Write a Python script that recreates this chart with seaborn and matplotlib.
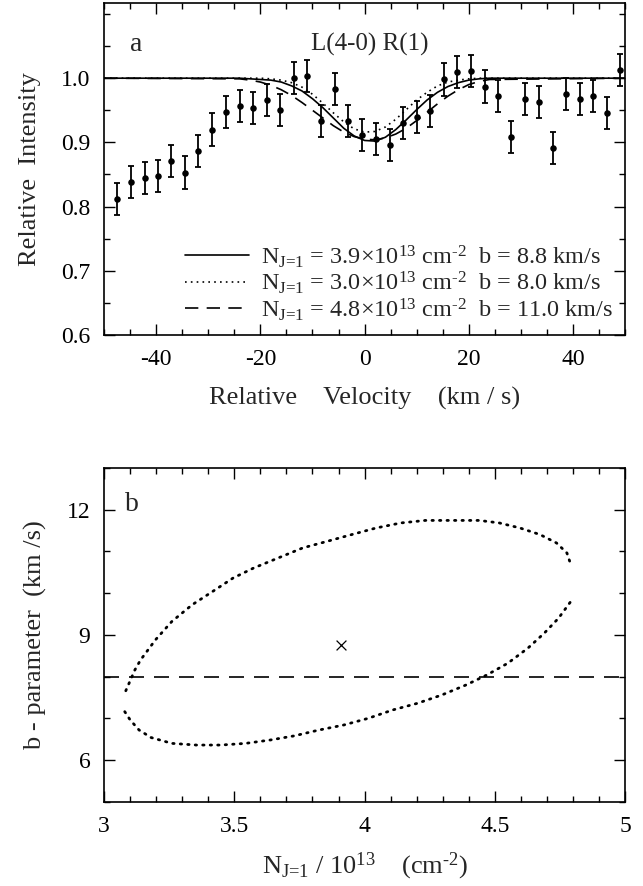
import numpy as np
import matplotlib
matplotlib.use("Agg")
import matplotlib.pyplot as plt
from matplotlib.ticker import MultipleLocator, FixedLocator, FormatStrFormatter, FuncFormatter
import seaborn as sns

sns.set_style("ticks")
plt.rcParams["font.family"] = ["Liberation Serif", "DejaVu Serif"]
plt.rcParams["mathtext.fontset"] = "custom"
plt.rcParams["mathtext.rm"] = "Liberation Serif"
plt.rcParams["mathtext.it"] = "Liberation Serif:italic"
plt.rcParams["axes.unicode_minus"] = False

# panel a: observed profile
velocity = [-47.5, -44.9, -42.2, -39.7, -37.1, -34.4, -31.9, -29.2, -26.6, -24.0,
            -21.4, -18.7, -16.2, -13.6, -11.0, -8.3, -5.7, -3.1, -0.4, 2.1,
            4.8, 7.4, 10.0, 12.6, 15.3, 17.8, 20.4, 23.1, 25.6, 28.2,
            30.8, 33.5, 36.1, 38.7, 41.3, 43.9, 46.5, 49.1]
intensity = [0.812, 0.838, 0.844, 0.848, 0.871, 0.853, 0.886, 0.920, 0.947, 0.957,
             0.953, 0.966, 0.951, 1.001, 1.003, 0.934, 0.983, 0.934, 0.911, 0.905,
             0.896, 0.930, 0.940, 0.949, 0.998, 1.010, 1.011, 0.987, 0.972, 0.908,
             0.968, 0.963, 0.891, 0.975, 0.968, 0.972, 0.946, 1.013]
intensity_err = [0.025] * len(velocity)

# model profiles
model_v = [-50, -24, -22, -20, -18, -16, -14, -12, -10, -8, -6, -4, -2, 0,
           2, 4, 6, 8, 10, 12, 14, 16, 18, 20, 22, 24, 50]
model_solid = [1.000, 1.000, 0.999, 0.998, 0.997, 0.994, 0.988, 0.980, 0.968, 0.954, 0.938, 0.922, 0.910, 0.903,
               0.902, 0.908, 0.920, 0.935, 0.951, 0.966, 0.978, 0.987, 0.993, 0.997, 0.999, 1.000, 1.000]
model_dotted = [1.000, 1.000, 1.000, 1.000, 0.999, 0.997, 0.993, 0.986, 0.975, 0.961, 0.946, 0.932, 0.921, 0.916,
                0.917, 0.924, 0.936, 0.951, 0.966, 0.978, 0.988, 0.994, 0.997, 0.999, 1.000, 1.000, 1.000]
model_dashed = [1.000, 0.999, 0.997, 0.994, 0.989, 0.982, 0.973, 0.962, 0.950, 0.938, 0.926, 0.916, 0.909, 0.905,
                0.904, 0.907, 0.913, 0.922, 0.934, 0.947, 0.960, 0.972, 0.982, 0.990, 0.995, 0.998, 1.000]
legend_labels = [
    r"N$_{\text{J=1}}$ = 3.9$\times$10$^{13}$ cm$^{\text{-}2}$  b = 8.8 km/s",
    r"N$_{\text{J=1}}$ = 3.0$\times$10$^{13}$ cm$^{\text{-}2}$  b = 8.0 km/s",
    r"N$_{\text{J=1}}$ = 4.8$\times$10$^{13}$ cm$^{\text{-}2}$  b = 11.0 km/s",
]
intensity_ticks = [0.6, 0.7, 0.8, 0.9, 1.0]

# panel b: confidence contour
upper_N = [3.083, 3.118, 3.140, 3.197, 3.260, 3.338, 3.417, 3.495, 3.574, 3.668, 3.762, 3.857,
           3.950, 4.045, 4.140, 4.234, 4.330, 4.440, 4.517, 4.596, 4.674, 4.737, 4.777, 4.792]
upper_b = [7.66, 8.16, 8.40, 8.88, 9.32, 9.72, 10.04, 10.36, 10.60, 10.84, 11.08, 11.24,
           11.40, 11.56, 11.68, 11.74, 11.74, 11.74, 11.68, 11.56, 11.40, 11.20, 10.96, 10.68]
lower_N = [3.079, 3.100, 3.134, 3.180, 3.260, 3.354, 3.448, 3.543, 3.637, 3.730, 3.825, 3.920,
           4.014, 4.108, 4.203, 4.297, 4.390, 4.470, 4.550, 4.627, 4.690, 4.745, 4.792]
lower_b = [7.16, 6.96, 6.72, 6.54, 6.40, 6.36, 6.36, 6.40, 6.48, 6.58, 6.72, 6.84,
           7.00, 7.20, 7.36, 7.56, 7.80, 8.04, 8.32, 8.68, 9.04, 9.40, 9.80]
best_N = [3.91]
best_b = [8.76]
fixed_b = 8.0

fig = plt.figure(figsize=(6.43, 8.86), dpi=100)
ax1 = fig.add_axes([0.162, 0.622, 0.810, 0.3745])
ax2 = fig.add_axes([0.162, 0.095, 0.810, 0.377])

# --- panel a
ax1.errorbar(velocity, intensity, yerr=intensity_err, fmt="none", ecolor="k",
             elinewidth=1.3, capsize=2.5, capthick=1.3)
sns.scatterplot(x=velocity, y=intensity, ax=ax1, color="k", s=22, edgecolor="k", linewidth=0)
sns.lineplot(x=model_v, y=model_solid, ax=ax1, color="k", lw=1.2, label=legend_labels[0])
sns.lineplot(x=model_v, y=model_dotted, ax=ax1, color="k", lw=1.2, linestyle=(0, (1, 2.5)),
             label=legend_labels[1])
sns.lineplot(x=model_v, y=model_dashed, ax=ax1, color="k", lw=1.2, linestyle=(0, (8, 5)),
             label=legend_labels[2])

ax1.set_xlim(-50, 50)
ax1.set_ylim(0.6, 1.117)
ax1.xaxis.set_major_locator(MultipleLocator(20))
ax1.xaxis.set_minor_locator(MultipleLocator(5))
ax1.yaxis.set_major_locator(FixedLocator(intensity_ticks))
ax1.yaxis.set_minor_locator(MultipleLocator(0.05))
ax1.yaxis.set_major_formatter(FormatStrFormatter("%.1f"))
ax1.set_xlabel("Relative    Velocity    (km / s)", fontsize=19, labelpad=12)
ax1.set_ylabel("Relative  Intensity", fontsize=19, labelpad=14)
ax1.text(0.05, 0.875, "a", transform=ax1.transAxes, fontsize=20, va="center")
ax1.text(0.51, 0.875, "L(4-0) R(1)", transform=ax1.transAxes, fontsize=18, ha="center", va="center")
ax1.legend(loc="lower right", frameon=False, fontsize=17.5, handlelength=2.6,
           labelspacing=0.0, handletextpad=0.5, borderaxespad=0.1)

# --- panel b
ax2.plot(upper_N, upper_b, color="k", lw=2.0, linestyle=(0, (0.5, 2.2)), dash_capstyle="round")
ax2.plot(lower_N, lower_b, color="k", lw=2.0, linestyle=(0, (0.5, 2.2)), dash_capstyle="round")
sns.scatterplot(x=best_N, y=best_b, ax=ax2, marker="x", color="k", s=50, linewidth=0.9)
ax2.axhline(fixed_b, color="k", lw=1.2, linestyle=(0, (9, 6)))

ax2.set_xlim(3, 5)
ax2.set_ylim(5, 13)
ax2.xaxis.set_major_locator(MultipleLocator(0.5))
ax2.xaxis.set_minor_locator(MultipleLocator(0.1))
ax2.yaxis.set_major_locator(MultipleLocator(3))
ax2.yaxis.set_minor_locator(MultipleLocator(1))
ax2.xaxis.set_major_formatter(FuncFormatter(lambda v, p: f"{v:g}"))
ax2.set_xlabel(r"N$_{\text{J=1}}$ / 10$^{13}$    (cm$^{\text{-}2}$)", fontsize=19, labelpad=10)
ax2.set_ylabel("b - parameter  (km /s)", fontsize=19, labelpad=14)
ax2.text(0.04, 0.889, "b", transform=ax2.transAxes, fontsize=20, va="center")

for ax in (ax1, ax2):
    ax.tick_params(which="both", direction="in", top=True, right=True, colors="k",
                   labelsize=17, width=1)
    ax.tick_params(which="major", length=8, pad=10)
    ax.tick_params(which="minor", length=4)
    for sp in ax.spines.values():
        sp.set_linewidth(1.2)
        sp.set_color("k")

fig.savefig("out.png", dpi=100)
